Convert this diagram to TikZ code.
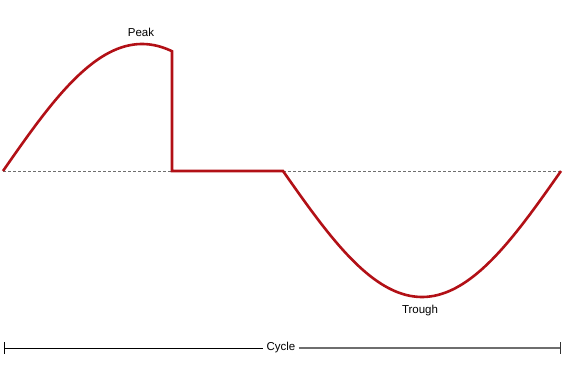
\documentclass[tikz,border=0pt]{standalone}
\usepackage{fontspec}
\setmainfont{Liberation Sans}
\definecolor{wavered}{RGB}{178,16,22}
\definecolor{axisgray}{RGB}{110,110,110}

\begin{document}
\begin{tikzpicture}[x=1pt,y=1pt,
    lbl/.style={font=\fontsize{11.5}{13}\selectfont, inner sep=1pt}]
      \useasboundingbox (0,-193) rectangle (564,171);
      % axis
      \draw[axisgray, dash pattern=on 3pt off 2pt, line width=0.9pt] (3,0) -- (561,0);
      % clipped wave
      \draw[wavered, line width=2.6pt]
        plot[smooth, samples=60, domain=3:172] (\x,{127*sin((\x-3)/278*180)})
        -- (172,0) -- (283,0)
        -- plot[smooth, samples=80, domain=283:561] (\x,{-126*sin((\x-283)/278*180)});
      \node[lbl] (peak) at (141,139) {Peak};
      \node[lbl] (trough) at (420,-140) {Trough};
      % cycle
      \node[lbl, fill=white, inner sep=3pt] (cycle) at (281,-177) {Cycle};
      \coordinate (cl) at (4,-177);
      \coordinate (cr) at (560,-177);
      \draw[black, line width=0.8pt] (cl) -- (cycle.west);
      \draw[axisgray, line width=1.3pt] (cycle.east) -- (cr);
      \draw[black, line width=0.8pt] ([yshift=6pt]cl) -- ([yshift=-6pt]cl);
      \draw[black!80, line width=0.8pt] ([yshift=6pt]cr) -- ([yshift=-6pt]cr);
    \end{tikzpicture}
\end{document}
